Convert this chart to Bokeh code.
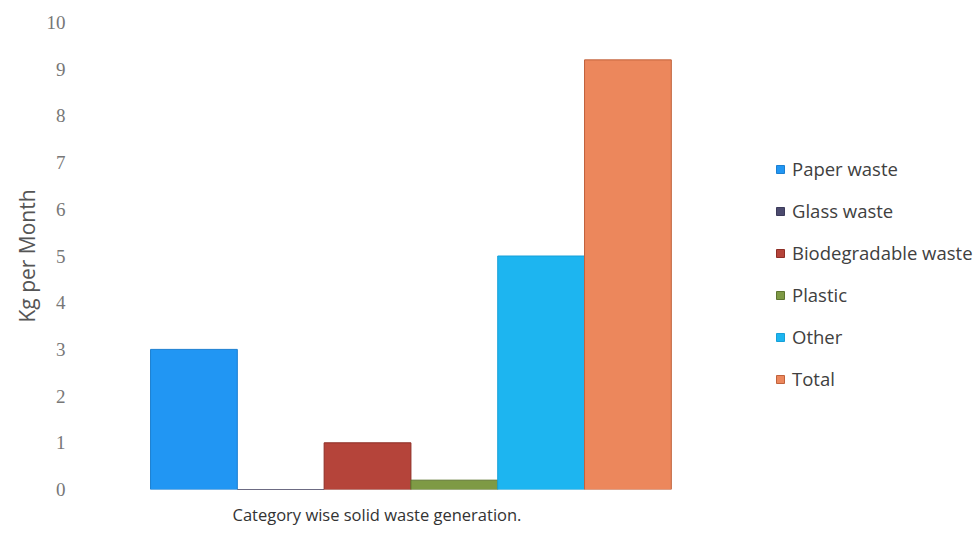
from bokeh.plotting import figure
from bokeh.models import ColumnDataSource, Range1d, FixedTicker, Title, Legend, LegendItem
from bokeh.embed import file_html
from bokeh.resources import INLINE

series = ["Paper waste", "Glass waste", "Biodegradable waste", "Plastic", "Other", "Total"]
values = [3, 0, 1, 0.2, 5, 9.2]
colors = ["#2196F3", "#4B4A6E", "#B5443A", "#7E9A45", "#1DB5F0", "#EC875C"]
outline = ["#1C7FD0", "#3C3B5A", "#8E2E26", "#5E7530", "#17A0D8", "#C0623C"]
y_ticks = [0, 1, 2, 3, 4, 5, 6, 7, 8, 9, 10]
x_title = "Category wise solid waste generation."
y_title = "Kg per Month"

src = ColumnDataSource(dict(
    x=list(range(len(series))),
    top=values,
    series=series,
    color=colors,
    line=outline,
))

p = figure(width=978, height=536, output_backend="svg", toolbar_location=None,
           x_range=Range1d(-1.376, 9.039), y_range=Range1d(0, 10),
           min_border_left=74, min_border_right=0, min_border_top=22,
           min_border_bottom=46)
p.outline_line_color = None
p.background_fill_color = "white"
p.border_fill_color = "white"

r = p.vbar(x="x", top="top", bottom=0, width=1.0, source=src,
           fill_color="color", line_color="line", line_width=1)

p.xaxis.visible = False
p.xgrid.visible = False
p.ygrid.visible = False

yax = p.yaxis[0]
yax.ticker = FixedTicker(ticks=y_ticks)
yax.axis_line_color = None
yax.major_tick_line_color = None
yax.minor_tick_line_color = None
yax.major_label_text_font = "Liberation Serif"
yax.major_label_text_font_size = "19px"
yax.major_label_text_color = "#777777"
yax.major_label_standoff = 3
yax.axis_label = y_title
yax.axis_label_text_font = "Open Sans"
yax.axis_label_text_font_size = "21px"
yax.axis_label_text_font_style = "normal"
yax.axis_label_text_color = "#555555"
yax.axis_label_standoff = 3

t = Title(text=x_title, align="left", offset=158, standoff=22, text_font="Open Sans",
          text_font_size="16.5px", text_font_style="normal", text_color="#333333")
p.add_layout(t, "below")

items = [LegendItem(label=s, renderers=[r], index=i) for i, s in enumerate(series)]
lg = Legend(items=items, location=(701, 98))
lg.padding = 0
lg.margin = 0
lg.border_line_color = None
lg.background_fill_alpha = 0
lg.glyph_width = 10
lg.glyph_height = 10
lg.label_height = 24
lg.spacing = 17
lg.label_standoff = 7
lg.label_text_font = "Open Sans"
lg.label_text_font_size = "18.5px"
lg.label_text_color = "#404040"
p.add_layout(lg)

open("out.html", "w").write(file_html(p, INLINE))
